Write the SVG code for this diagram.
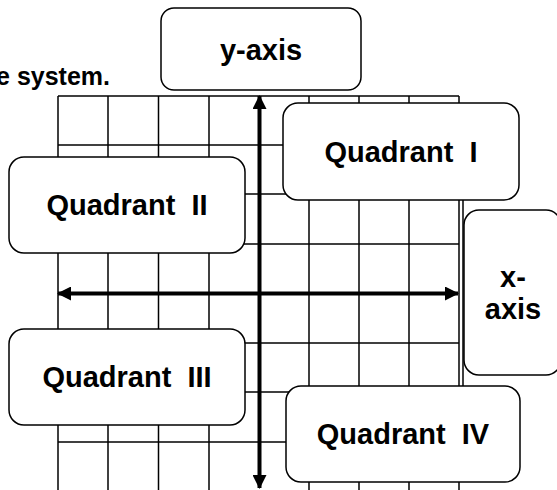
<svg xmlns="http://www.w3.org/2000/svg" width="557" height="490" viewBox="0 0 557 490">
<style>
.grid line{stroke:#000;stroke-width:1.5}
.box{fill:#fff;stroke:#000;stroke-width:1.5}
.lbl{font-family:"Liberation Sans",Arial,sans-serif;font-weight:bold;font-size:29px;fill:#000;text-anchor:middle;white-space:pre}
.axis{stroke:#000;stroke-width:4;fill:none}
</style>
<defs>
<marker id="ah" viewBox="0 0 14 14" refX="13" refY="7" markerWidth="14" markerHeight="14" markerUnits="userSpaceOnUse" orient="auto-start-reverse">
<path d="M0,0 L14,7 L0,14 Z" fill="#000"/>
</marker>
</defs>
<rect width="557" height="490" fill="#fff"/>
<text x="110" y="85" font-family="Liberation Sans,Arial,sans-serif" font-weight="bold" font-size="25" text-anchor="end">e system.</text>
<g class="grid">
<line x1="58" y1="96" x2="459" y2="96"/>
<line x1="58" y1="145" x2="459" y2="145"/>
<line x1="58" y1="194" x2="459" y2="194"/>
<line x1="58" y1="244" x2="459" y2="244"/>
<line x1="58" y1="343" x2="459" y2="343"/>
<line x1="58" y1="392" x2="459" y2="392"/>
<line x1="58" y1="442" x2="459" y2="442"/>
<line x1="58" y1="96" x2="58" y2="490"/>
<line x1="108" y1="96" x2="108" y2="490"/>
<line x1="158.5" y1="96" x2="158.5" y2="490"/>
<line x1="209" y1="96" x2="209" y2="490"/>
<line x1="309" y1="96" x2="309" y2="490"/>
<line x1="359" y1="96" x2="359" y2="490"/>
<line x1="409" y1="96" x2="409" y2="490"/>
<line x1="459" y1="96" x2="459" y2="490"/>
<line x1="463" y1="200" x2="463" y2="386"/>
</g>
<g id="connectors">
<line class="axis" x1="259.5" y1="96" x2="259.5" y2="488" marker-start="url(#ah)" marker-end="url(#ah)"/>
<line class="axis" x1="58" y1="293.5" x2="458" y2="293.5" marker-start="url(#ah)" marker-end="url(#ah)"/>
</g>
<g id="y-axis">
<rect class="box" x="161" y="8" width="200" height="82" rx="13"/>
<text class="lbl" x="261" y="60">y-axis</text>
</g>
<g id="quadrant-1">
<rect class="box" x="283" y="103" width="236" height="97" rx="15"/>
<text class="lbl" x="401" y="162">Quadrant  I</text>
</g>
<g id="quadrant-2">
<rect class="box" x="9" y="157" width="236" height="96" rx="15"/>
<text class="lbl" x="127" y="215">Quadrant  II</text>
</g>
<g id="x-axis">
<rect class="box" x="464" y="210" width="97" height="165" rx="15"/>
<text class="lbl" x="513" y="287">x-</text>
<text class="lbl" x="513" y="319">axis</text>
</g>
<g id="quadrant-3">
<rect class="box" x="9" y="329" width="236" height="96" rx="15"/>
<text class="lbl" x="127" y="387">Quadrant  III</text>
</g>
<g id="quadrant-4">
<rect class="box" x="286" y="386" width="234" height="96" rx="15"/>
<text class="lbl" x="403" y="444">Quadrant  IV</text>
</g>
</svg>
